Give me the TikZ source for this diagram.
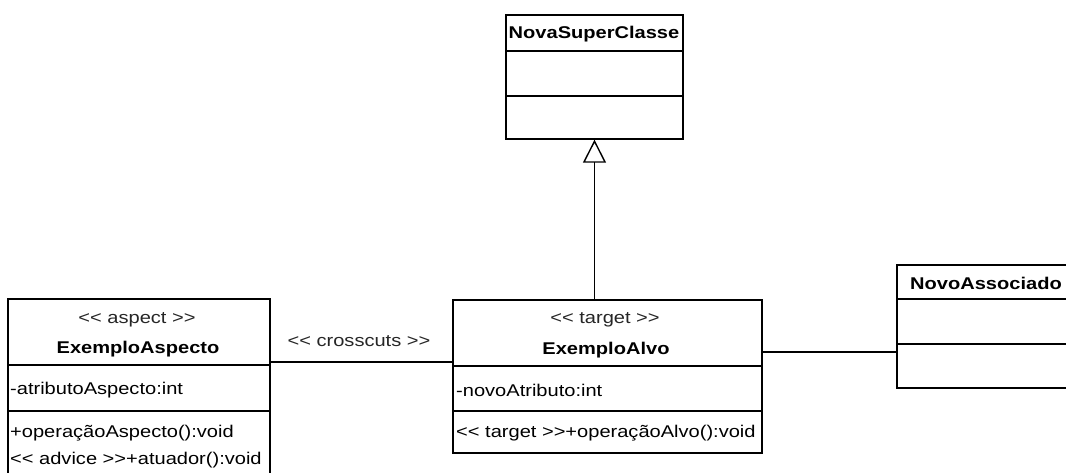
\documentclass[tikz,border=0pt]{standalone}
\usepackage{fontspec}
\setmainfont{Liberation Sans}[FakeStretch=1.18, Ligatures=TeXOff]
\usetikzlibrary{arrows.meta}
\begin{document}
\begin{tikzpicture}[x=1pt,y=-1pt,
  cls/.style={draw=black, line width=1.4pt, inner sep=0pt, fill=white},
  txt/.style={inner sep=0pt, font=\fontsize{17}{18}\selectfont, text=black},
  ttl/.style={txt, font=\fontsize{17}{18}\selectfont\bfseries},
  ster/.style={txt, text=black!85},
  conn/.style={draw=black, line width=1.4pt},
  gen/.style={conn, -{Triangle[open, length=23pt, width=23pt, line width=1.4pt]}}
]
\useasboundingbox[fill=white] (0,0) rectangle (1066,473);

% classes
\node[cls, minimum width=262pt, minimum height=181pt] (asp) at (139,389.5) {};
\node[cls, minimum width=309pt, minimum height=153pt] (alvo) at (607.5,376.5) {};
\node[cls, minimum width=177pt, minimum height=124pt] (super) at (594.5,77) {};
\node[cls, minimum width=178pt, minimum height=123pt] (assoc) at (986,326.5) {};

% compartment lines
\draw[conn] (asp.west |- 0,365) -- (asp.east |- 0,365);
\draw[conn] (asp.west |- 0,411) -- (asp.east |- 0,411);
\draw[conn] (alvo.west |- 0,366) -- (alvo.east |- 0,366);
\draw[conn] (alvo.west |- 0,411) -- (alvo.east |- 0,411);
\draw[conn] (super.west |- 0,51) -- (super.east |- 0,51);
\draw[conn] (super.west |- 0,96) -- (super.east |- 0,96);
\draw[conn] (assoc.west |- 0,299) -- (assoc.east |- 0,299);
\draw[conn] (assoc.west |- 0,344) -- (assoc.east |- 0,344);

% texts: ExemploAspecto
\node[ster] (aspS) at (137,320) {<< aspect >>};
\node[ttl] (aspT) at (138,349) {ExemploAspecto};
\node[txt, anchor=west] (aspA) at (10,390) {-atributoAspecto:int};
\node[txt, anchor=west] (aspO1) at (10,433) {+operaçãoAspecto():void};
\node[txt, anchor=west] (aspO2) at (10,460) {<< advice >>+atuador():void};

% texts: ExemploAlvo
\node[ster] (alvoS) at (605,320) {<< target >>};
\node[ttl] (alvoT) at (606,350) {ExemploAlvo};
\node[txt, anchor=west] (alvoA) at (456,390) {-novoAtributo:int};
\node[txt, anchor=west] (alvoO) at (456,433) {<< target >>+operaçãoAlvo():void};

% titles
\node[ttl] (superT) at (594,34) {NovaSuperClasse};
\node[ttl, anchor=west] (assocT) at (910,283) {NovoAssociado};

% connectors
\draw[gen] (alvo.north -| super.south) -- (super.south);
\draw[conn] (asp.east |- 0,362) -- (alvo.west |- 0,362);
\node[ster] (cross) at (359,341) {<< crosscuts >>};
\draw[conn] (alvo.east |- 0,352) -- (assoc.west |- 0,352);
\end{tikzpicture}
\end{document}
